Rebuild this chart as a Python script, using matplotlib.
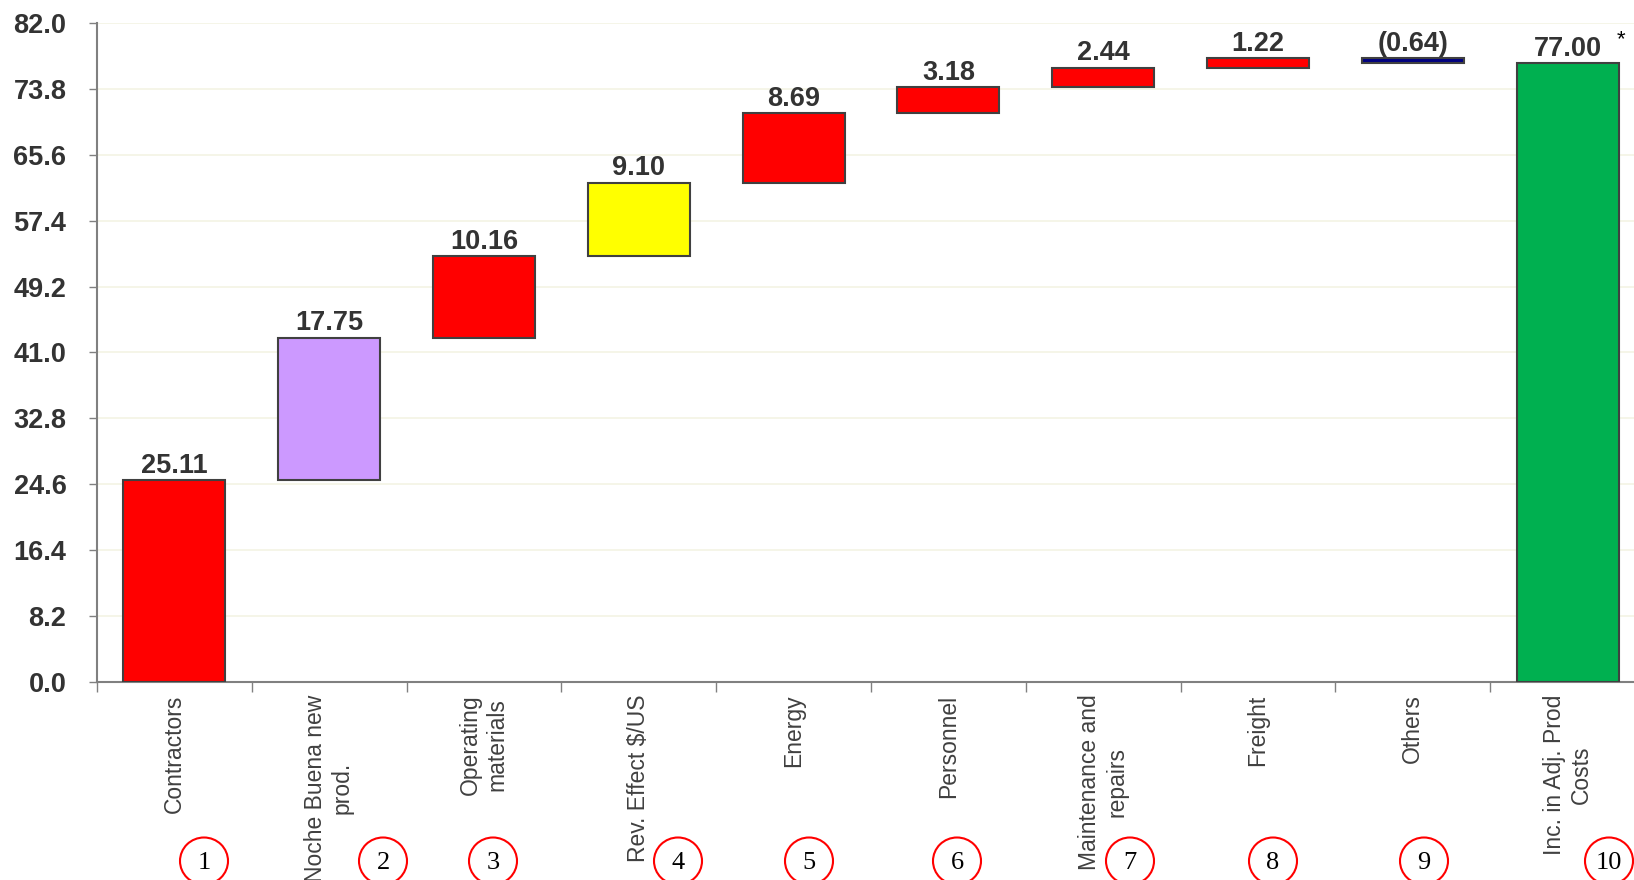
import matplotlib.pyplot as plt
from matplotlib.patches import Ellipse
import numpy as np

categories = ["Contractors", "Noche Buena new\nprod.", "Operating\nmaterials",
              "Rev. Effect $/US", "Energy", "Personnel", "Maintenance and\nrepairs",
              "Freight", "Others", "Inc. in Adj. Prod\nCosts"]
changes = [25.11, 17.75, 10.16, 9.10, 8.69, 3.18, 2.44, 1.22, -0.64]
total = 77.00
value_labels = ["25.11", "17.75", "10.16", "9.10", "8.69", "3.18", "2.44", "1.22", "(0.64)", "77.00"]
colors = ["#ff0000", "#cc99ff", "#ff0000", "#ffff00", "#ff0000", "#ff0000",
          "#ff0000", "#ff0000", "#000080", "#00b050"]
yticks = [0.0, 8.2, 16.4, 24.6, 32.8, 41.0, 49.2, 57.4, 65.6, 73.8, 82.0]

plt.rcParams['font.family'] = ['Liberation Sans', 'DejaVu Sans']

# waterfall: each step starts where the previous one ended, last bar is the total
ends = np.cumsum(changes)
starts = ends - np.array(changes)
bottoms = list(starts) + [0]
heights = list(changes) + [total]
x = np.arange(len(categories))

fig = plt.figure(figsize=(16.34, 8.8), dpi=100)
ax = fig.add_axes([97 / 1634, 1 - 682 / 880, 1548 / 1634, 659 / 880])

ax.bar(x, heights, bottom=bottoms, width=0.66, color=colors,
       edgecolor="#404040", linewidth=1.5, zorder=3)

for i in range(len(categories)):
    top = max(bottoms[i], bottoms[i] + heights[i])
    ax.annotate(value_labels[i], (x[i], top), xytext=(0, 1), textcoords="offset points",
                ha="center", va="bottom", fontsize=19.5, fontweight="bold", color="#333333")

ax.set_xlim(-0.5, len(categories) - 0.5)
ax.set_ylim(0, 82)
ax.set_yticks(yticks)
ax.set_yticklabels(["%.1f" % v for v in yticks])
ax.tick_params(axis="y", length=6, width=1, color="#808080", pad=16,
               labelsize=19.5, labelcolor="#333333")
for lbl in ax.get_yticklabels():
    lbl.set_fontweight("bold")
ax.yaxis.grid(True, color="#f3f3e4", linewidth=1.2, zorder=0)

# boundary ticks on the x axis, category names under the bar centres
ax.set_xticks(np.arange(-0.5, len(categories), 1.0))
ax.set_xticklabels([])
ax.tick_params(axis="x", which="major", length=7, width=1, color="#808080")
ax.set_xticks(x, minor=True)
ax.set_xticklabels(categories, minor=True, rotation=90, ha="center", va="top",
                   fontsize=16.5, color="#404040")
ax.tick_params(axis="x", which="minor", length=0, pad=9)

for s in ["top", "right"]:
    ax.spines[s].set_visible(False)
for s in ["left", "bottom"]:
    ax.spines[s].set_color("#808080")
    ax.spines[s].set_linewidth(1.5)

# numbered red circles along the bottom
circle_x = [204, 383, 493, 678, 809, 957, 1130, 1273, 1424, 1609]
for n, cx in enumerate(circle_x, start=1):
    fig.patches.append(Ellipse((cx / 1634, 1 - 861 / 880), 48 / 1634, 47 / 880,
                               transform=fig.transFigure, facecolor="white",
                               edgecolor="#ff0000", linewidth=1.5))
    fig.text(cx / 1634, 1 - 863 / 880, str(n), ha="center", va="center",
             fontsize=19, family="Liberation Serif", color="black")

fig.text(1621 / 1634, 1 - 40 / 880, "*", ha="center", va="center", fontsize=16, color="black")

fig.savefig("out.png", dpi=100)
